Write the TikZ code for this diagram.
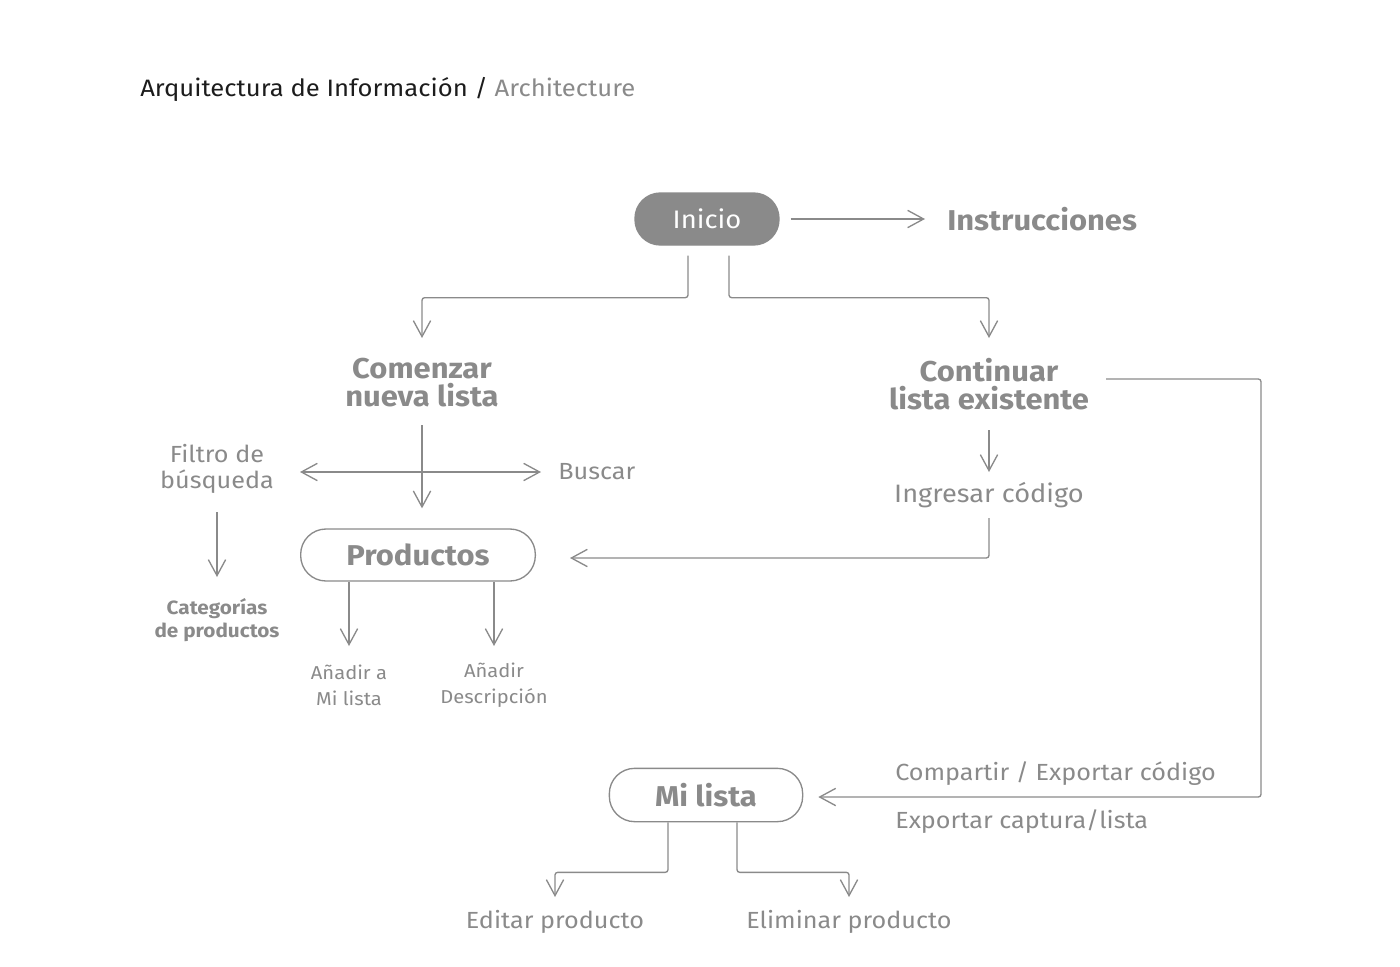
\documentclass[tikz,border=0pt]{standalone}
\usepackage{fontspec}
\setmainfont[FakeStretch=1.08]{Fira Sans}
\setsansfont[FakeStretch=1.08]{Fira Sans}
\usetikzlibrary{positioning, arrows.meta, calc}
\definecolor{archGray}{RGB}{138, 138, 138}
\definecolor{archDark}{RGB}{28, 28, 28}

\begin{document}
\begin{tikzpicture}[
    x=0.75pt, y=-0.75pt,
    font=\sffamily,
    >={Straight Barb[length=12pt, width=13pt]},
    pill/.style={
        draw=archGray,
        fill=white,
        rectangle,
        rounded corners=19pt,
        line width=1.0pt,
        minimum height=39pt,
        inner sep=0pt,
        align=center,
        text=archGray,
        font=\sffamily\fontsize{21.5}{21}\selectfont\bfseries
    },
    startpill/.style={
        pill,
        fill=archGray,
        draw=archGray,
        text=white,
        font=\sffamily\fontsize{19}{20}\selectfont
    },
    bigtitle/.style={
        inner sep=0pt,
        align=center,
        text=archGray,
        font=\sffamily\fontsize{21.5}{21}\selectfont\bfseries
    },
    label/.style={
        inner sep=0pt,
        align=center,
        text=archGray,
        font=\sffamily\fontsize{17.5}{19}\selectfont
    },
    smallbold/.style={
        inner sep=0pt,
        align=center,
        text=archGray,
        font=\sffamily\fontsize{14.4}{17}\selectfont\bfseries
    },
    small/.style={
        inner sep=0pt,
        align=center,
        text=archGray,
        font=\sffamily\fontsize{14}{19.5}\selectfont
    },
    arrow/.style={
        draw=archGray,
        ->,
        line width=1.0pt,
        rounded corners=2pt
    }
]
\useasboundingbox (0,0) rectangle (1400,967);

% ================= TITLE =================
\node[anchor=west, inner sep=0pt, font=\sffamily\fontsize{17.8}{19}\selectfont] (title) at (140,89)
    {\color{archDark}Arquitectura de Información / \color{archGray}Architecture};

% ================= START =================
\node[startpill, minimum width=108pt] (inicio) at (707,219) {Inicio};
\node[bigtitle, anchor=west] (instr) at (947,219) {Instrucciones};

\node[bigtitle] (comenzar) at (422,383) {Comenzar\\nueva lista};
\node[bigtitle] (continuar) at (989,384) {Continuar\\lista existente};

\draw[arrow] ($(inicio.east)+(11,0)$) -- ($(instr.west)+(-22,0)$);
\draw[arrow] ($(inicio.south)+(-19,10)$) -- ++(0,42) -| ($(comenzar)+(0,-45)$);
\draw[arrow] ($(inicio.south)+(22,10)$) -- ++(0,42) -| ($(continuar)+(0,-46)$);

% ================= NEW LIST =================
\node[label] (filtro) at (217,469) {Filtro de\\búsqueda};
\node[label, anchor=west] (buscar) at (558,472) {Buscar};
\node[smallbold] (categorias) at (217,620) {Categorías\\de productos};
\node[pill, minimum width=176pt] (productos) at (418,555) {Productos};
\node[small] (anadir) at (349,685) {Añadir a\\Mi lista};
\node[small] (descripcion) at (494,685) {Añadir\\Descripción};

\draw[arrow, <->] ($(buscar.west)+(-258,0)$) -- ($(buscar.west)+(-17,0)$);
\draw[arrow] ($(comenzar)+(0,42)$) -- ($(comenzar |- productos.north)+(0,-20)$);
\draw[arrow] ($(filtro)+(0,43)$) -- ($(categorias)+(0,-43)$);
\draw[arrow] (productos.south -| anadir) -- ($(anadir)+(0,-39)$);
\draw[arrow] (productos.south -| descripcion) -- ($(descripcion)+(0,-39)$);

% ================= EXISTING LIST =================
\node[label, font=\sffamily\fontsize{18.9}{19}\selectfont] (ingresar) at (989,495) {Ingresar código};

\draw[arrow] ($(continuar)+(0,46)$) -- ($(ingresar)+(0,-23)$);
\draw[arrow] ($(ingresar)+(0,23)$) |- ($(productos.east)+(34,3)$);

% ================= MY LIST =================
\node[pill, minimum width=145pt, minimum height=40pt] (milista) at (706,795) {Mi lista};
\node[label, anchor=west] (compartir) at (895,774) {Compartir / Exportar código};
\node[label, anchor=west] (exportar) at (895,822) {Exportar captura/lista};
\node[label] (editar) at (555,922) {Editar producto};
\node[label] (eliminar) at (849,922) {Eliminar producto};

\draw[arrow] ($(continuar)+(117,-5)$) -- ++(155,0) |- ($(milista.east)+(15,2)$);
\draw[arrow] ($(milista.south)+(-38,0)$) -- ++(0,50) -| ($(editar)+(0,-25)$);
\draw[arrow] ($(milista.south)+(31,0)$) -- ++(0,50) -| ($(eliminar)+(0,-25)$);

\end{tikzpicture}
\end{document}
